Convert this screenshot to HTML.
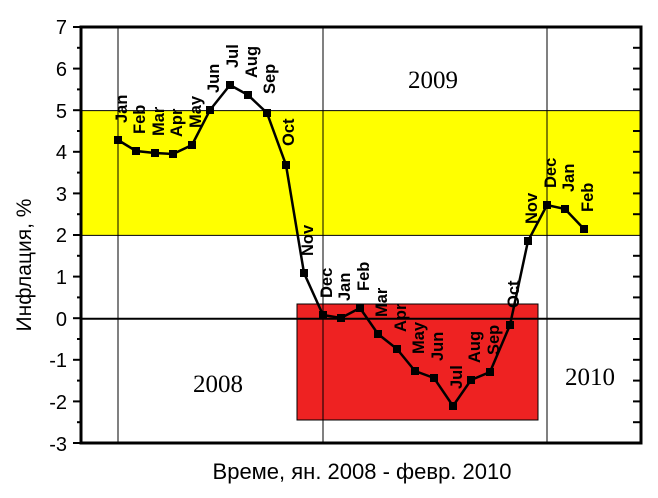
<!DOCTYPE html>
<html><head><meta charset="utf-8"><style>
html,body{margin:0;padding:0;background:#fff;}
svg{display:block;}
</style></head><body>
<svg width="658" height="498" xmlns="http://www.w3.org/2000/svg" font-family="Liberation Sans, Arial, sans-serif">
<rect x="0" y="0" width="658" height="498" fill="#fff"/>
<rect x="81" y="110.6" width="560" height="124.8" fill="#ffff00"/>
<rect x="297" y="304" width="241" height="116" fill="#ee2222" stroke="#000" stroke-width="1"/>
<g stroke="#000" stroke-width="1">
<line x1="118" y1="27" x2="118" y2="443"/>
<line x1="323" y1="27" x2="323" y2="443"/>
<line x1="547" y1="27" x2="547" y2="443"/>
<line x1="81" y1="110.6" x2="641" y2="110.6"/>
<line x1="81" y1="235.4" x2="641" y2="235.4"/>
</g>
<line x1="81" y1="318.8" x2="641" y2="318.8" stroke="#000" stroke-width="2"/>
<rect x="81" y="27" width="560" height="416" fill="none" stroke="#000" stroke-width="3"/>
<g stroke="#000" stroke-width="2">
<line x1="73" y1="27" x2="81" y2="27"/><line x1="77" y1="47.8" x2="81" y2="47.8"/>
<line x1="73" y1="68.6" x2="81" y2="68.6"/><line x1="77" y1="89.4" x2="81" y2="89.4"/>
<line x1="73" y1="110.2" x2="81" y2="110.2"/><line x1="77" y1="131" x2="81" y2="131"/>
<line x1="73" y1="151.8" x2="81" y2="151.8"/><line x1="77" y1="172.6" x2="81" y2="172.6"/>
<line x1="73" y1="193.4" x2="81" y2="193.4"/><line x1="77" y1="214.2" x2="81" y2="214.2"/>
<line x1="73" y1="235" x2="81" y2="235"/><line x1="77" y1="255.8" x2="81" y2="255.8"/>
<line x1="73" y1="276.6" x2="81" y2="276.6"/><line x1="77" y1="297.4" x2="81" y2="297.4"/>
<line x1="73" y1="318.2" x2="81" y2="318.2"/><line x1="77" y1="339" x2="81" y2="339"/>
<line x1="73" y1="359.8" x2="81" y2="359.8"/><line x1="77" y1="380.6" x2="81" y2="380.6"/>
<line x1="73" y1="401.4" x2="81" y2="401.4"/><line x1="77" y1="422.2" x2="81" y2="422.2"/>
<line x1="73" y1="443" x2="81" y2="443"/>
<line x1="633" y1="47.8" x2="641" y2="47.8"/><line x1="633" y1="68.6" x2="641" y2="68.6"/>
<line x1="633" y1="89.4" x2="641" y2="89.4"/><line x1="633" y1="131" x2="641" y2="131"/>
<line x1="633" y1="151.8" x2="641" y2="151.8"/><line x1="633" y1="172.6" x2="641" y2="172.6"/>
<line x1="633" y1="193.4" x2="641" y2="193.4"/><line x1="633" y1="214.2" x2="641" y2="214.2"/>
<line x1="633" y1="255.8" x2="641" y2="255.8"/><line x1="633" y1="276.6" x2="641" y2="276.6"/>
<line x1="633" y1="297.4" x2="641" y2="297.4"/><line x1="633" y1="339" x2="641" y2="339"/>
<line x1="633" y1="359.8" x2="641" y2="359.8"/><line x1="633" y1="380.6" x2="641" y2="380.6"/>
<line x1="633" y1="401.4" x2="641" y2="401.4"/><line x1="633" y1="422.2" x2="641" y2="422.2"/>
</g>
<g font-size="20" text-anchor="end" fill="#000">
<text x="67" y="34">7</text><text x="67" y="76">6</text><text x="67" y="118">5</text>
<text x="67" y="159">4</text><text x="67" y="201">3</text><text x="67" y="242">2</text>
<text x="67" y="284">1</text><text x="67" y="326">0</text><text x="67" y="367">-1</text>
<text x="67" y="409">-2</text><text x="67" y="451">-3</text>
</g>
<text transform="translate(31,265) rotate(-90)" font-size="21" text-anchor="middle">Инфлация, %</text>
<text x="362" y="479" font-size="22" text-anchor="middle">Време, ян. 2008 - февр. 2010</text>
<g font-family="Liberation Serif, serif" font-size="25" text-anchor="middle">
<text x="433" y="88">2009</text><text x="218" y="392">2008</text><text x="590" y="385">2010</text>
</g>
<polyline fill="none" stroke="#000" stroke-width="2.5" points="118,140 136,151 155,153 173,154 192,145 210,110 230,85 248,95 267,113 286,165 304,273 323,315 341,318 360,308 378,334 397,349 415,371 434,378 453,406 471,380 490,372 510,325 528,241 547,205 565,209 584,229"/>
<g fill="#000">
<rect x="114" y="136" width="8" height="8"/><rect x="132" y="147" width="8" height="8"/><rect x="151" y="149" width="8" height="8"/><rect x="169" y="150" width="8" height="8"/><rect x="188" y="141" width="8" height="8"/><rect x="206" y="106" width="8" height="8"/><rect x="226" y="81" width="8" height="8"/><rect x="244" y="91" width="8" height="8"/><rect x="263" y="109" width="8" height="8"/><rect x="282" y="161" width="8" height="8"/><rect x="300" y="269" width="8" height="8"/><rect x="319" y="311" width="8" height="8"/><rect x="337" y="314" width="8" height="8"/><rect x="356" y="304" width="8" height="8"/><rect x="374" y="330" width="8" height="8"/><rect x="393" y="345" width="8" height="8"/><rect x="411" y="367" width="8" height="8"/><rect x="430" y="374" width="8" height="8"/><rect x="449" y="402" width="8" height="8"/><rect x="467" y="376" width="8" height="8"/><rect x="486" y="368" width="8" height="8"/><rect x="506" y="321" width="8" height="8"/><rect x="524" y="237" width="8" height="8"/><rect x="543" y="201" width="8" height="8"/><rect x="561" y="205" width="8" height="8"/><rect x="580" y="225" width="8" height="8"/>
</g>
<g font-size="16.5" font-weight="bold" fill="#000">
<text transform="translate(127,123) rotate(-90)">Jan</text>
<text transform="translate(145,134) rotate(-90)">Feb</text>
<text transform="translate(164,136) rotate(-90)">Mar</text>
<text transform="translate(182,137) rotate(-90)">Apr</text>
<text transform="translate(201,128) rotate(-90)">May</text>
<text transform="translate(219,93) rotate(-90)">Jun</text>
<text transform="translate(238,68) rotate(-90)">Jul</text>
<text transform="translate(257,78) rotate(-90)">Aug</text>
<text transform="translate(275,94) rotate(-90)">Sep</text>
<text transform="translate(294,146) rotate(-90)">Oct</text>
<text transform="translate(313,256) rotate(-90)">Nov</text>
<text transform="translate(332,298) rotate(-90)">Dec</text>
<text transform="translate(350,301) rotate(-90)">Jan</text>
<text transform="translate(369,291) rotate(-90)">Feb</text>
<text transform="translate(387,317) rotate(-90)">Mar</text>
<text transform="translate(406,332) rotate(-90)">Apr</text>
<text transform="translate(424,354) rotate(-90)">May</text>
<text transform="translate(443,361) rotate(-90)">Jun</text>
<text transform="translate(462,389) rotate(-90)">Jul</text>
<text transform="translate(480,363) rotate(-90)">Aug</text>
<text transform="translate(499,355) rotate(-90)">Sep</text>
<text transform="translate(519,308) rotate(-90)">Oct</text>
<text transform="translate(537,224) rotate(-90)">Nov</text>
<text transform="translate(556,188) rotate(-90)">Dec</text>
<text transform="translate(574,192) rotate(-90)">Jan</text>
<text transform="translate(593,212) rotate(-90)">Feb</text>
</g>
</svg>
</body></html>
